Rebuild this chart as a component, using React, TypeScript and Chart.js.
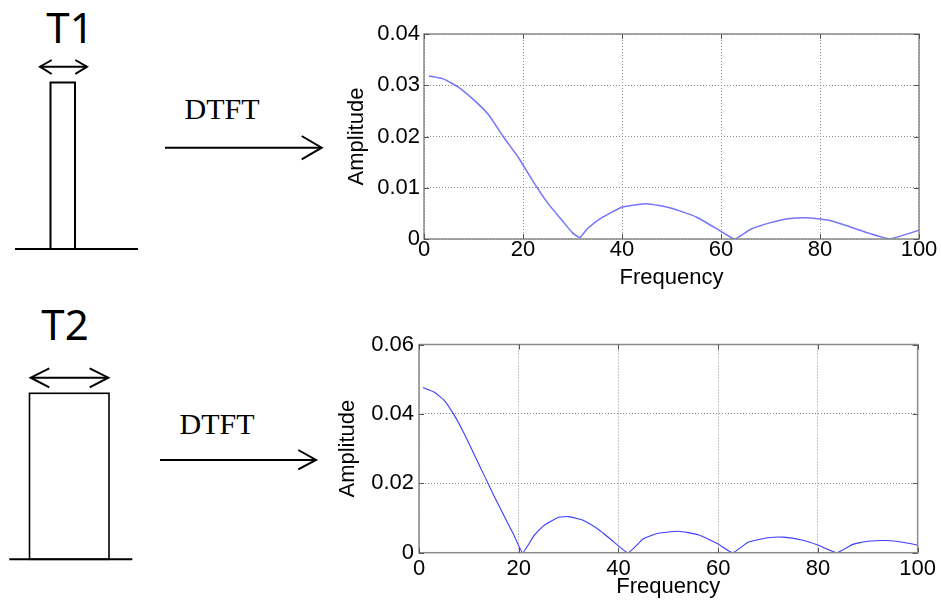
import React, { useEffect, useRef } from "react";
import { Chart, registerables } from "chart.js";

Chart.register(...registerables);

// ---- Data ----
const freq1 = [1, 4, 7, 10, 13, 16, 19, 22, 25, 28, 30, 31.5, 33, 36, 40, 45, 50, 55, 60, 62.8, 66, 70, 74, 78, 82, 86, 90, 94, 97, 100];
const amp1 = [0.0318, 0.0312, 0.0296, 0.0272, 0.0243, 0.02, 0.016, 0.0113, 0.007, 0.0035, 0.0012, 0.0003, 0.002, 0.0042, 0.0062, 0.0069, 0.006, 0.0043, 0.0015, 0.0, 0.0019, 0.0032, 0.004, 0.0041, 0.0036, 0.0024, 0.0011, 0.0, 0.0008, 0.0017];

const freq2 = [0.8, 3, 5, 7, 9, 11, 13, 15, 17, 19, 20.8, 23, 25, 28, 30, 33, 36, 39, 41.9, 45, 48, 52, 56, 60, 62.9, 66, 70, 73, 77, 80, 83.8, 87, 90, 94, 97, 100];
const amp2 = [0.0476, 0.0463, 0.044, 0.0398, 0.0345, 0.0285, 0.0225, 0.0165, 0.0108, 0.0052, 0.0, 0.0048, 0.0078, 0.0102, 0.0104, 0.0093, 0.0067, 0.0032, 0.0, 0.004, 0.0056, 0.0062, 0.0052, 0.0025, 0.0, 0.003, 0.0043, 0.0045, 0.0036, 0.0022, 0.0, 0.0024, 0.0033, 0.0035, 0.003, 0.0022];

const xTicks = [0, 20, 40, 60, 80, 100];
const yTicks1 = [0, 0.01, 0.02, 0.03, 0.04];
const yTicks2 = [0, 0.02, 0.04, 0.06];

const FONT = "'Liberation Sans', Arial, sans-serif";
const FSIZE = 22;

const framePlugin = {
  id: "matlabFrame",
  afterDatasetsDraw(chart: any) {
    const { ctx, chartArea: a, scales } = chart;
    ctx.save();
    ctx.strokeStyle = "#8a8a8a";
    ctx.lineWidth = 1.5;
    ctx.strokeRect(a.left, a.top, a.right - a.left, a.bottom - a.top);
    ctx.strokeStyle = "#555";
    ctx.lineWidth = 1;
    const L = 5;
    ctx.beginPath();
    scales.x.ticks.forEach((t: any) => {
      const px = Math.round(scales.x.getPixelForValue(t.value)) + 0.5;
      ctx.moveTo(px, a.bottom);
      ctx.lineTo(px, a.bottom - L);
      ctx.moveTo(px, a.top);
      ctx.lineTo(px, a.top + L);
    });
    scales.y.ticks.forEach((t: any) => {
      const py = Math.round(scales.y.getPixelForValue(t.value)) + 0.5;
      ctx.moveTo(a.left, py);
      ctx.lineTo(a.left + L, py);
      ctx.moveTo(a.right, py);
      ctx.lineTo(a.right - L, py);
    });
    ctx.stroke();
    ctx.restore();
  },
};

type Cfg = {
  xs: number[];
  ys: number[];
  yMax: number;
  yTickVals: number[];
  color: string;
  lineWidth: number;
  padTop: number;
  yWidth: number;
  xHeight: number;
  yTitlePad: number;
  xTitlePad: number;
  xTickPad: number;
  yTickPad: number;
};

function Plot({ cfg, style }: { cfg: Cfg; style: React.CSSProperties }) {
  const ref = useRef<HTMLCanvasElement | null>(null);
  useEffect(() => {
    if (!ref.current) return;
    const chart = new Chart(ref.current, {
      type: "line",
      data: {
        datasets: [
          {
            data: cfg.xs.map((x, i) => ({ x, y: cfg.ys[i] })),
            borderColor: cfg.color,
            borderWidth: cfg.lineWidth,
            pointRadius: 0,
            tension: 0.15,
            fill: false,
          },
        ],
      },
      options: {
        animation: false,
        responsive: false,
        maintainAspectRatio: false,
        layout: { padding: { top: cfg.padTop, right: 22, left: 0, bottom: 0 } },
        plugins: { legend: { display: false }, tooltip: { enabled: false } },
        scales: {
          x: {
            type: "linear",
            min: 0,
            max: 100,
            afterBuildTicks: (s: any) => {
              s.ticks = xTicks.map((v) => ({ value: v }));
            },
            afterFit: (s: any) => {
              s.height = cfg.xHeight;
            },
            ticks: {
              font: { family: FONT, size: FSIZE, lineHeight: 1 },
              color: "#000",
              padding: cfg.xTickPad,
              maxRotation: 0,
              autoSkip: false,
            },
            grid: { color: "#8a8a8a", lineWidth: 1, drawTicks: false },
            border: { display: false, dash: [1, 2] },
            title: {
              display: true,
              text: "Frequency",
              font: { family: FONT, size: FSIZE, lineHeight: 1.2 },
              color: "#000",
              padding: { top: 0, bottom: cfg.xTitlePad },
            },
          },
          y: {
            type: "linear",
            min: 0,
            max: cfg.yMax,
            afterBuildTicks: (s: any) => {
              s.ticks = cfg.yTickVals.map((v) => ({ value: v }));
            },
            afterFit: (s: any) => {
              s.width = cfg.yWidth;
            },
            ticks: {
              font: { family: FONT, size: FSIZE, lineHeight: 1 },
              color: "#000",
              padding: cfg.yTickPad,
              callback: (v: any) => (v === 0 ? "0" : Number(v).toFixed(2)),
            },
            grid: { color: "#8a8a8a", lineWidth: 1, drawTicks: false },
            border: { display: false, dash: [1, 2] },
            title: {
              display: true,
              text: "Amplitude",
              font: { family: FONT, size: FSIZE, lineHeight: 1.2 },
              color: "#000",
              padding: { top: cfg.yTitlePad, bottom: 0 },
            },
          },
        },
      },
      plugins: [framePlugin],
    } as any);
    return () => chart.destroy();
  }, [cfg]);
  const w = style.width as number;
  const h = style.height as number;
  return <canvas ref={ref} width={w} height={h} style={{ position: "absolute", ...style }} />;
}

const cfgTop: Cfg = {
  xs: freq1,
  ys: amp1,
  yMax: 0.04,
  yTickVals: yTicks1,
  color: "#7474ff",
  lineWidth: 1.5,
  padTop: 34,
  yWidth: 94,
  xHeight: 61,
  yTitlePad: 14,
  xTitlePad: 9,
  xTickPad: 0,
  yTickPad: 4,
};

const cfgBottom: Cfg = {
  xs: freq2,
  ys: amp2,
  yMax: 0.06,
  yTickVals: yTicks2,
  color: "#3c3cff",
  lineWidth: 1.1,
  padTop: 44.5,
  yWidth: 99,
  xHeight: 54.3,
  yTitlePad: 15,
  xTitlePad: 7,
  xTickPad: 5,
  yTickPad: 5,
};

function Diagrams() {
  const stroke = { stroke: "#000", strokeWidth: 2, fill: "none" } as const;
  return (
    <svg width={941} height={607} style={{ position: "absolute", left: 0, top: 0 }}>
      {/* top pulse */}
      <text x={70} y={43} fontFamily="'Noto Sans', sans-serif" fontSize={42} textAnchor="middle">T1</text>
      <line x1={40} y1={66.7} x2={87} y2={66.7} {...stroke} />
      <polyline points="51.7,60 40,66.7 51.7,74" {...stroke} />
      <polyline points="75.3,60 87,66.7 75.3,74" {...stroke} />
      <rect x={50.5} y={82.5} width={24.5} height={166.5} {...stroke} />
      <line x1={15} y1={249} x2={138} y2={249} {...stroke} />
      <text x={222} y={119} fontFamily="'Liberation Serif', serif" fontSize={30} textAnchor="middle">DTFT</text>
      <line x1={165} y1={147.7} x2={321} y2={147.7} {...stroke} />
      <polyline points="301.7,136 321.7,147.7 301.7,159.3" {...stroke} />

      {/* bottom pulse */}
      <text x={65} y={340} fontFamily="'Noto Sans', sans-serif" fontSize={42} textAnchor="middle">T2</text>
      <line x1={31} y1={377.7} x2={108} y2={377.7} {...stroke} />
      <polyline points="49.3,368.3 30.7,377.7 49.3,387.3" {...stroke} />
      <polyline points="89.7,368.3 108.3,377.7 89.7,387.3" {...stroke} />
      <rect x={29.5} y={393.3} width={79.5} height={166} stroke="#000" strokeWidth={1.6} fill="none" />
      <line x1={9.3} y1={559.3} x2={132.3} y2={559.3} {...stroke} />
      <text x={217} y={434} fontFamily="'Liberation Serif', serif" fontSize={30} textAnchor="middle">DTFT</text>
      <line x1={160} y1={460} x2={315} y2={460} {...stroke} />
      <polyline points="298.3,450 316,460 298.3,469.3" {...stroke} />
    </svg>
  );
}

export default function App() {
  return (
    <div style={{ position: "fixed", left: 0, top: 0, width: 941, height: 607, background: "#fff", overflow: "hidden" }}>
      <Diagrams />
      <Plot cfg={cfgTop} style={{ left: 330, top: 0, width: 611, height: 300 }} />
      <Plot cfg={cfgBottom} style={{ left: 320, top: 300, width: 621, height: 307 }} />
    </div>
  );
}
